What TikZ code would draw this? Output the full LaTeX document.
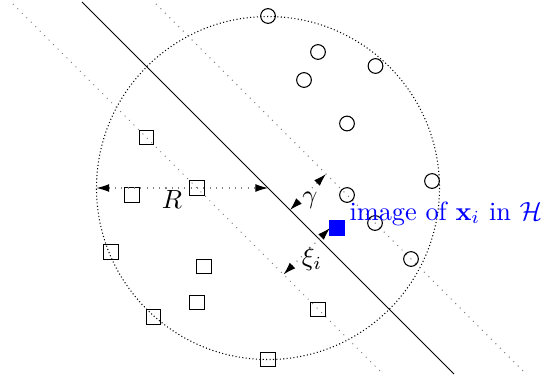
\documentclass[tikz,border=0pt]{standalone}
\usetikzlibrary{arrows.meta}
\begin{document}
\begin{tikzpicture}[x=0.38pt,y=-0.38pt,
  posdot/.style={circle,draw,thin,minimum size=5.6pt,inner sep=0pt},
  negbox/.style={rectangle,draw,thin,minimum size=5.6pt,inner sep=0pt},
  marginline/.style={dotted,gray},
  mtip/.tip={Latex[length=4.8pt,width=3pt,black]},
  meas/.style={dotted,gray,mtip-mtip},
]
\useasboundingbox (0,0) rectangle (542,381);
% enclosing ball
\coordinate (ctr) at (268,188);
\draw[dash pattern=on 0.4pt off 0.9pt] (ctr) circle[radius=171.5];
% hyperplane and margins
\coordinate (s0) at (82,2);   \coordinate (s1) at (454,374);
\coordinate (l0) at (13,4);   \coordinate (l1) at (382,373);
\coordinate (r0) at (156,4);  \coordinate (r1) at (525,373);
\draw[marginline] (l0) -- (l1);
\draw[marginline] (r0) -- (r1);
\draw[thin] (s0) -- (s1);
% positive class
\node[posdot] (c1) at (268,16) {};
\node[posdot] (c2) at (318,52) {};
\node[posdot] (c3) at (375.5,66) {};
\node[posdot] (c4) at (304,80) {};
\node[posdot] (c5) at (347,123.5) {};
\node[posdot] (c6) at (432,181) {};
\node[posdot] (c7) at (347,195) {};
\node[posdot] (c8) at (375,223) {};
\node[posdot] (c9) at (411,259) {};
% negative class
\node[negbox] (q1) at (146.5,137.5) {};
\node[negbox] (q2) at (197,188) {};
\node[negbox] (q3) at (132,195) {};
\node[negbox] (q4) at (111,252) {};
\node[negbox] (q5) at (204,266.5) {};
\node[negbox] (q6) at (197,302.5) {};
\node[negbox] (q7) at (153.5,317) {};
\node[negbox] (q8) at (318,309.5) {};
\node[negbox] (q9) at (268,359.5) {};
% image point
\node[fill=blue,minimum size=5.9pt,inner sep=0pt] (xi) at (337,228) {};
\node[blue,anchor=base west,inner sep=0pt] (lbl) at (349,220) {image of $\mathbf{x}_i$ in $\mathcal{H}$};
% radius
\coordinate (rl) at (96.5,188);
\draw[meas] (rl) -- (ctr);
\node (Rl) at (172,200) {$R$};
% margin gamma
\coordinate (g0) at (290,210); \coordinate (g1) at (326,174);
\draw[meas] (g0) -- (g1);
\node (gl) at (310,200) {$\gamma$};
% slack xi
\coordinate (x0) at (283.5,274.5); \coordinate (x1) at (330,228);
\draw[meas] (x0) -- (x1);
\node (xl) at (312,259) {$\xi_i$};
\end{tikzpicture}
\end{document}
